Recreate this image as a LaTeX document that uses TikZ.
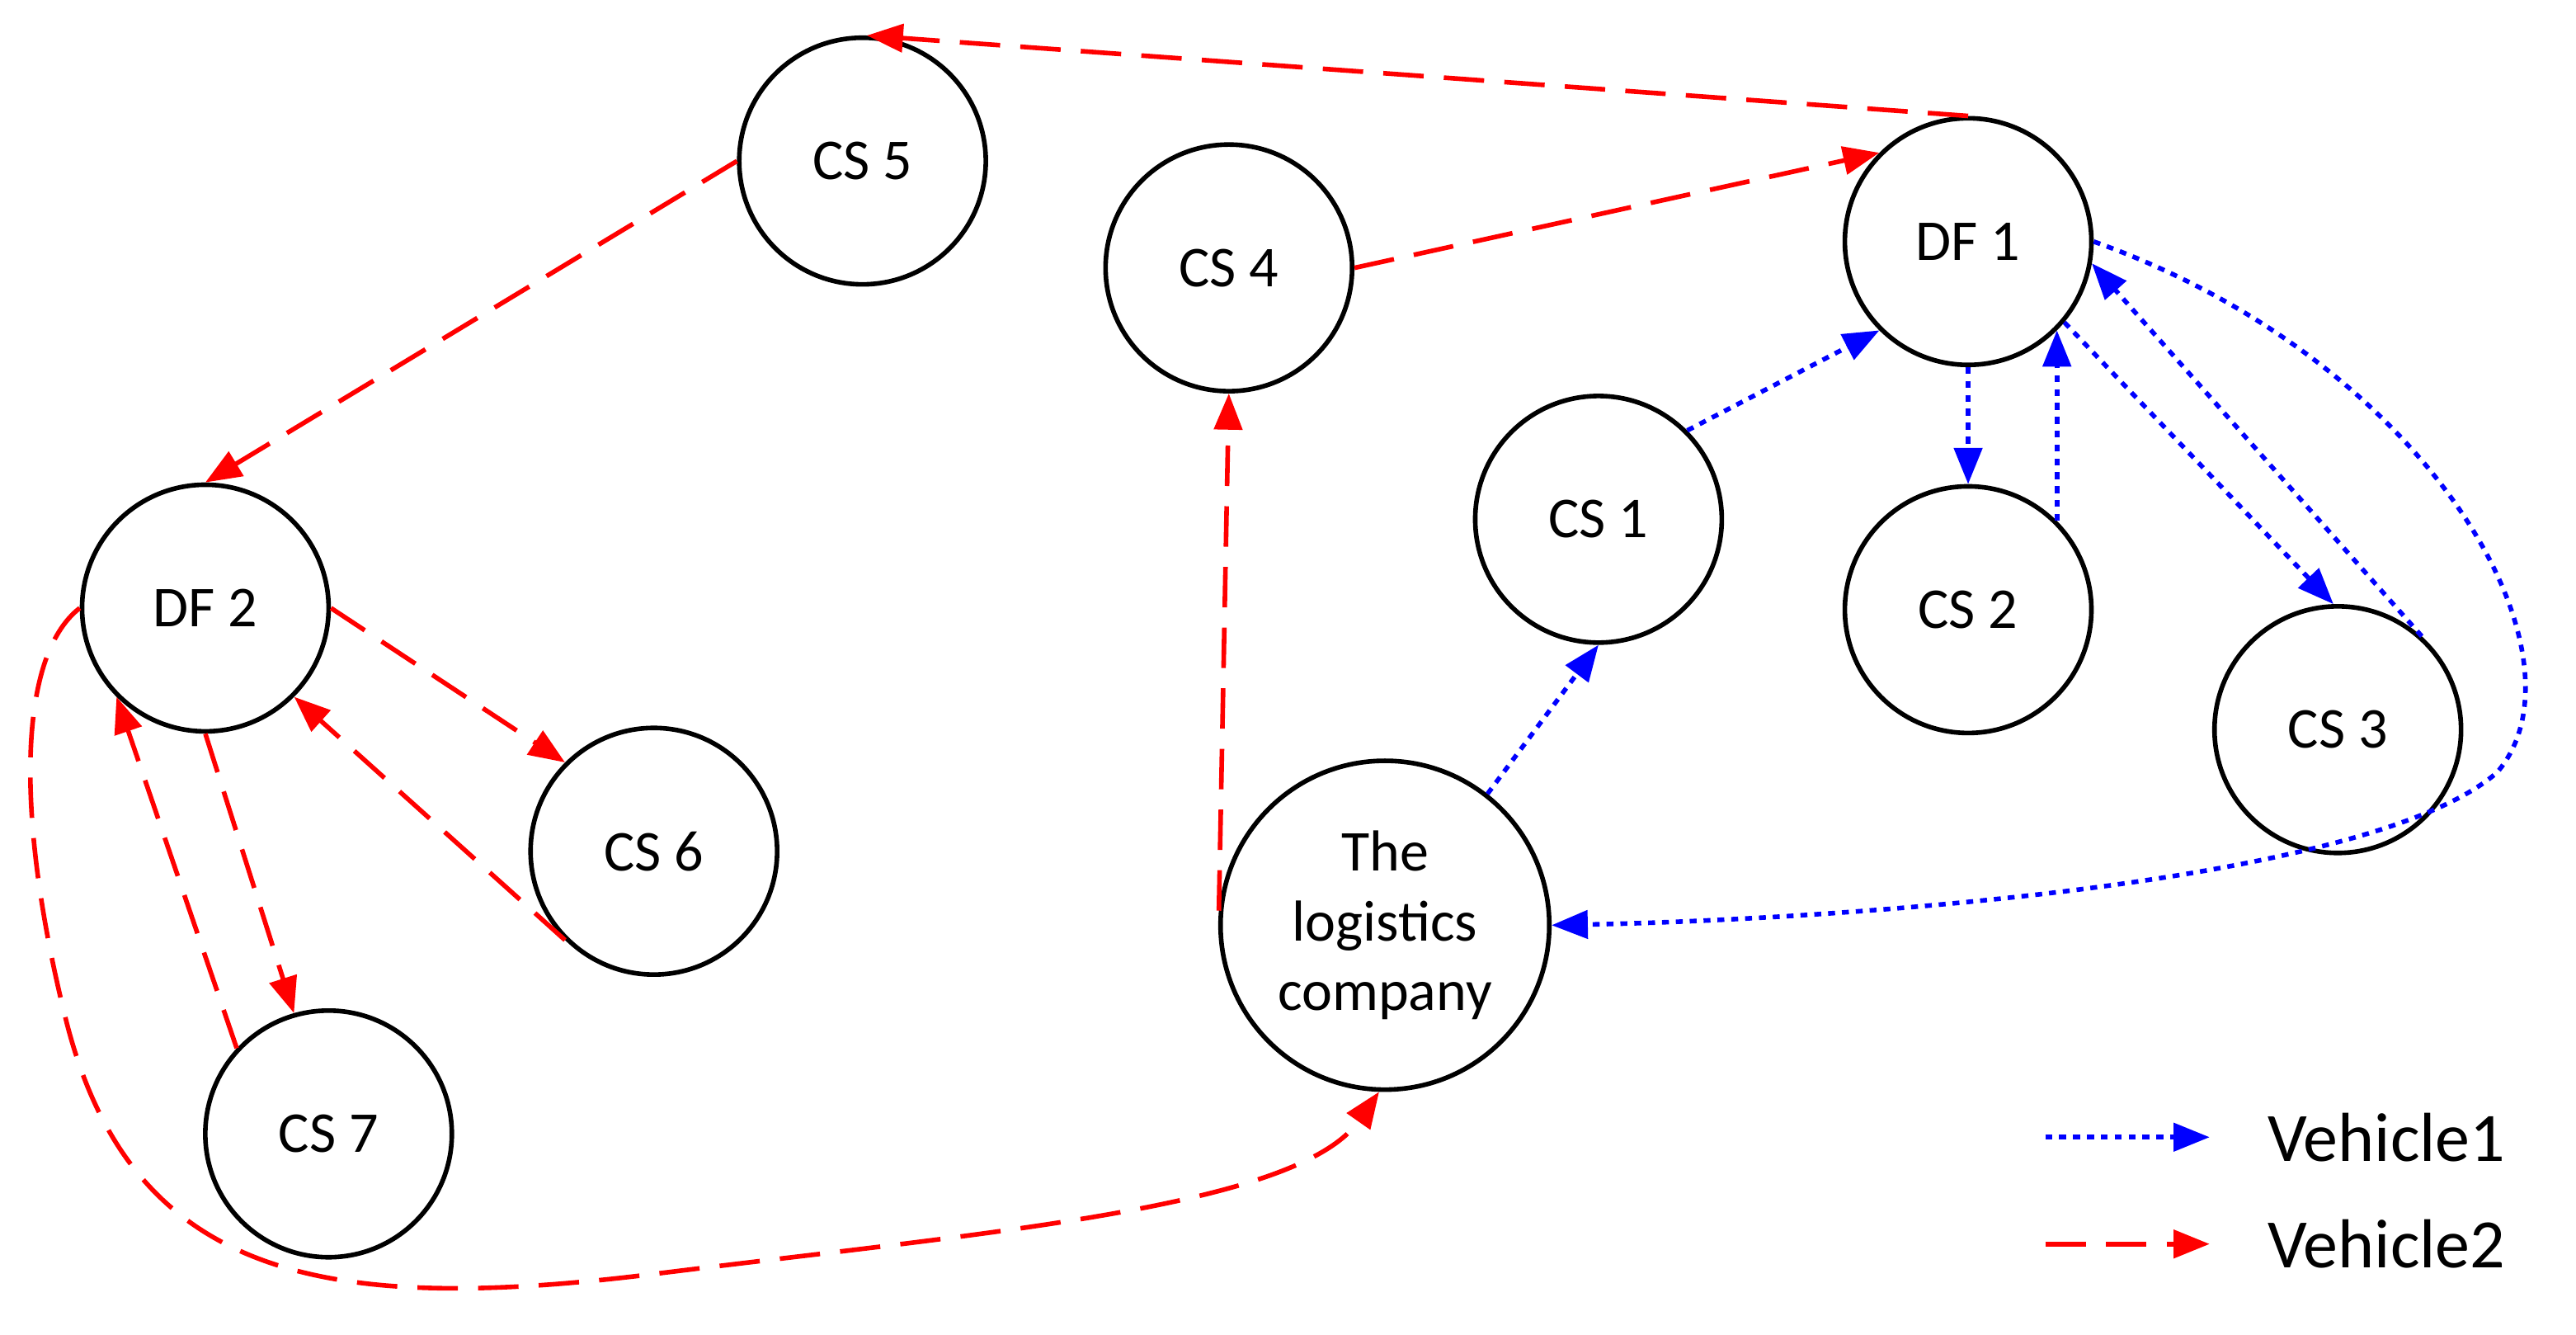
\documentclass[tikz,border=0pt]{standalone}
\usepackage{fontspec}
\setmainfont{Carlito}
\usetikzlibrary{arrows.meta}
\begin{document}
\begin{tikzpicture}[x=0.01cm,y=-0.01cm,
  st/.style={circle,draw,line width=0.8pt,minimum size=1.5cm,inner sep=0pt,font=\fontsize{10}{12}\selectfont,align=center},
  tip/.style={-{Triangle[length=0.22cm,width=0.17cm]}},
  v2/.style={tip,draw=red,line width=0.8pt,dash pattern=on 7pt off 3.5pt},
  v1/.style={tip,draw=blue,line width=0.8pt,dash pattern=on 1.2pt off 1.2pt}]
\useasboundingbox (0,0) rectangle (1568,812);
\node[st] (cs5) at (525,98) {CS 5};
\node[st] (cs4) at (748,163) {CS 4};
\node[st] (df1) at (1198,147) {DF 1};
\node[st] (cs1) at (973,316) {CS 1};
\node[st] (cs2) at (1198,371) {CS 2};
\node[st] (cs3) at (1423,444) {CS 3};
\node[st] (df2) at (125,370) {DF 2};
\node[st] (cs6) at (398,518) {CS 6};
\node[st] (cs7) at (200,690) {CS 7};
\node[st,minimum size=2cm] (lc) at (843,563) {The\\logistics\\company};
% red
\draw[v2] (df1.90) -- (cs5.88);
\draw[v2] (cs4.0) -- (df1.135);
\draw[v2] (cs5.180) -- (df2.90);
\draw[v2] (df2.0) -- (cs6.135);
\draw[v2] (cs6.225) -- (df2.-45);
\draw[v2] (df2.-90) -- (cs7.106);
\draw[v2] (cs7.137) -- (df2.225);
\draw[v2] (lc.175) -- (cs4.-90);
\draw[v2] (df2.180) .. controls (10,400) and (10,500) .. (40,620) .. controls (80,780) and (200,800) .. (400,775) .. controls (600,750) and (790,735) .. (lc.-92);
% blue
\draw[v1] (lc.52) -- (cs1.-90);
\draw[v1] (cs1.45) -- (df1.225);
\draw[v1] (df1.-90) -- (cs2.90);
\draw[v1] (cs2.45) -- (df1.-45);
\draw[v1] (df1.-40) -- (cs3.92);
\draw[v1] (cs3.48) -- (df1.-10);
\draw[v1] (df1.0) .. controls (1480,220) and (1580,400) .. (1520,470) .. controls (1440,540) and (1100,560) .. (lc.0);
% legend
\coordinate (a1) at (1245,692); \coordinate (b1) at (1345,692);
\coordinate (a2) at (1245,757); \coordinate (b2) at (1345,757);
\draw[v1] (a1) -- (b1);
\draw[v2] (a2) -- (b2);
\node[anchor=west,font=\fontsize{12}{14}\selectfont] (t1) at (1368,692) {Vehicle1};
\node[anchor=west,font=\fontsize{12}{14}\selectfont] (t2) at (1368,757) {Vehicle2};
\end{tikzpicture}
\end{document}
